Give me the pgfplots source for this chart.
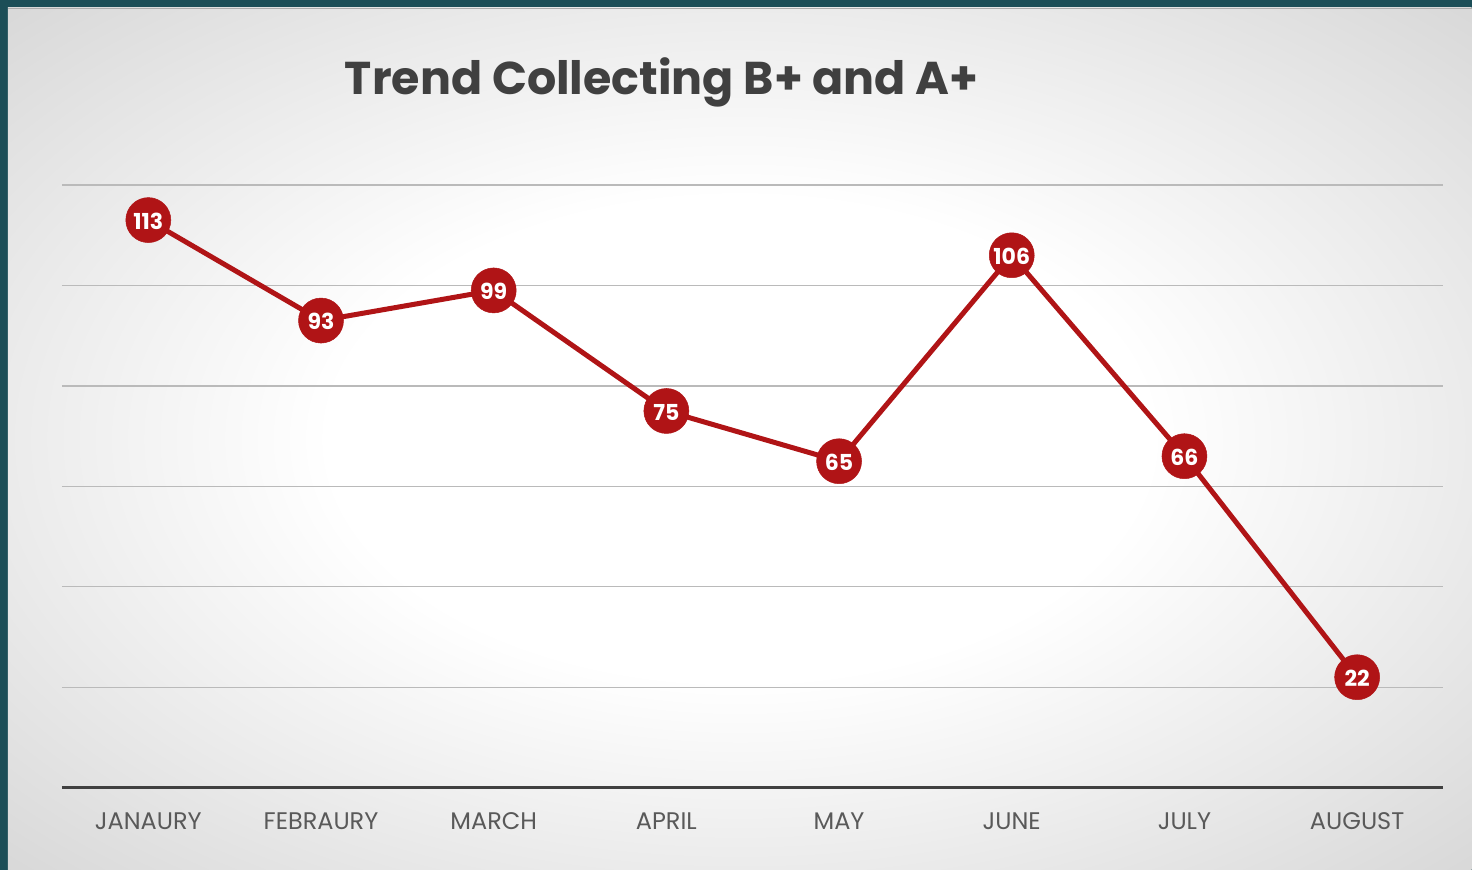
\documentclass[border=0pt]{standalone}
\usepackage{fontspec}
\setmainfont{Poppins}
\usepackage{pgfplots}
\pgfplotsset{compat=1.18}
\definecolor{teal1}{HTML}{1C4E57}
\definecolor{lred}{HTML}{B01416}
\definecolor{titlec}{HTML}{404040}
\definecolor{tickc}{HTML}{595959}
\definecolor{gridc}{HTML}{BABABA}
\pgfdeclareradialshading{bgshade}{\pgfpoint{0bp}{0bp}}{color(0bp)=(white); color(14bp)=(white); color(45bp)=(gray!44); color(72bp)=(gray!54)}
\begin{document}
\begin{tikzpicture}[x=1pt,y=1pt]
\fill[teal1] (0,0) rectangle (1472,870);
\shade[shading=bgshade] (8,0) rectangle (1472,862);
\draw[gray!65, line width=1pt] (8,861.5) -- (1472,861.5);
\node[anchor=base, text=titlec, font=\fontsize{46}{56}\selectfont\bfseries] at (662,775) {Trend Collecting B+ and A+};
\begin{axis}[
  at={(62pt,82pt)}, anchor=south west,
  scale only axis, width=1382pt, height=603pt,
  xmin=-0.5, xmax=7.5, ymin=0, ymax=120,
  axis line style={draw=none},
  clip=false,
  xtick={0,...,7},
  xticklabels={JANAURY,FEBRAURY,MARCH,APRIL,MAY,JUNE,JULY,AUGUST},
  xticklabel style={font=\fontsize{24}{28}\selectfont, text=tickc, text height=17pt, text depth=0pt, yshift=-21pt},
  ytick={20,40,60,80,100,120},
  yticklabels={},
  ymajorgrids,
  grid style={gridc, line width=1.3pt},
  extra y ticks={0},
  extra y tick labels={},
  extra y tick style={grid style={titlec, line width=3pt}},
  major tick length=0pt,
  /pgf/number format/assume math mode=true,
]
\addplot[lred, line width=5pt, mark=*, mark size=22.5pt,
  mark options={fill=lred, draw=lred, line width=0.5pt},
  nodes near coords, nodes near coords align={center},
  every node near coord/.append style={font=\fontsize{22}{24}\selectfont\bfseries, text=white, anchor=center, yshift=-1pt}]
coordinates {(0,113) (1,93) (2,99) (3,75) (4,65) (5,106) (6,66) (7,22)};
\end{axis}
\end{tikzpicture}
\end{document}
